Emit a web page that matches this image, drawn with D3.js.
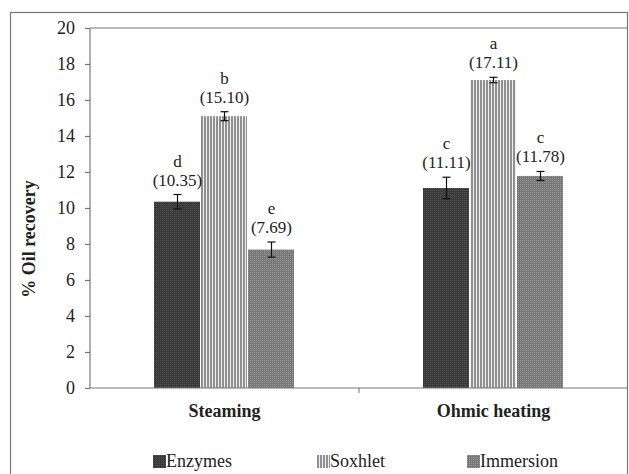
<!DOCTYPE html>
<html>
<head>
<meta charset="utf-8">
<script src="https://cdn.jsdelivr.net/npm/d3@7"></script>
<style>
  body { margin: 0; background: #fff; }
</style>
</head>
<body>
<div id="container"></div>
<script>
const categories = ["Steaming", "Ohmic heating"]
const seriesNames = ["Enzymes", "Soxhlet", "Immersion"]
const enzymes = [10.35, 11.11]
const soxhlet = [15.10, 17.11]
const immersion = [7.69, 11.78]
const enzymesErr = [0.4, 0.6]
const soxhletErr = [0.25, 0.15]
const immersionErr = [0.42, 0.25]
const enzymesLetters = ["d", "c"]
const soxhletLetters = ["b", "a"]
const immersionLetters = ["e", "c"]
const yTicks = [0, 2, 4, 6, 8, 10, 12, 14, 16, 18, 20]

const W = 629, H = 474
const margin = {left: 90, top: 28, right: 1, bottom: 86}
const serif = '"Liberation Serif"'

const svg = d3.select("#container").append("svg")
    .attr("width", W)
    .attr("height", H)

// patterns for the bar fills
const defs = svg.append("defs")

const pEnz = defs.append("pattern").attr("id", "pEnz")
    .attr("patternUnits", "userSpaceOnUse").attr("width", 2).attr("height", 2)
pEnz.append("rect").attr("width", 2).attr("height", 2).attr("fill", "#3a3a3a")
pEnz.append("rect").attr("width", 1).attr("height", 1).attr("fill", "#505050")

const pSox = defs.append("pattern").attr("id", "pSox")
    .attr("patternUnits", "userSpaceOnUse").attr("width", 3).attr("height", 3)
pSox.append("rect").attr("width", 3).attr("height", 3).attr("fill", "#f0f0f0")
pSox.append("rect").attr("width", 2).attr("height", 3).attr("fill", "#909090")

const pImm = defs.append("pattern").attr("id", "pImm")
    .attr("patternUnits", "userSpaceOnUse").attr("width", 2).attr("height", 2)
pImm.append("rect").attr("width", 2).attr("height", 2).attr("fill", "#777")
pImm.append("rect").attr("width", 1).attr("height", 1).attr("fill", "#989898")

const fills = ["url(#pEnz)", "url(#pSox)", "url(#pImm)"]

// outer frame
svg.append("rect")
    .attr("x", 10.5).attr("y", 12.5)
    .attr("width", 617).attr("height", 480)
    .attr("fill", "none")
    .attr("stroke", "#777")
    .attr("stroke-width", 1.2)

const x0 = d3.scaleBand()
    .domain(categories)
    .range([margin.left, W - margin.right])

const y = d3.scaleLinear()
    .domain([0, 20])
    .range([H - margin.bottom, margin.top])

// plot box top line
svg.append("path")
    .attr("d", `M${margin.left},${margin.top}H${W - margin.right}`)
    .attr("fill", "none")
    .attr("stroke", "#777")
    .attr("stroke-width", 1.2)

const barW = 47
const x1 = d3.scaleBand()
    .domain(seriesNames)
    .range([-barW * 1.5, barW * 1.5])

const rows = []
categories.forEach((c, i) => {
    rows.push({cat: c, s: "Enzymes", v: enzymes[i], e: enzymesErr[i], l: enzymesLetters[i], f: fills[0]})
    rows.push({cat: c, s: "Soxhlet", v: soxhlet[i], e: soxhletErr[i], l: soxhletLetters[i], f: fills[1]})
    rows.push({cat: c, s: "Immersion", v: immersion[i], e: immersionErr[i], l: immersionLetters[i], f: fills[2]})
})

const cx = d => x0(d.cat) + x0.bandwidth() / 2 + x1(d.s) + x1.bandwidth() / 2

svg.selectAll(".bar")
    .data(rows)
    .enter()
    .append("rect")
    .attr("class", "bar")
    .attr("x", d => x0(d.cat) + x0.bandwidth() / 2 + x1(d.s))
    .attr("y", d => y(d.v))
    .attr("width", x1.bandwidth() - 1)
    .attr("height", d => y(0) - y(d.v))
    .attr("fill", d => d.f)

// error bars
const err = svg.selectAll(".err")
    .data(rows)
    .enter()
    .append("g")
    .attr("stroke", "#111")
    .attr("stroke-width", 1.2)
err.append("line")
    .attr("x1", cx).attr("x2", cx)
    .attr("y1", d => y(d.v + d.e)).attr("y2", d => y(d.v - d.e))
err.append("line")
    .attr("x1", d => cx(d) - 4).attr("x2", d => cx(d) + 4)
    .attr("y1", d => y(d.v + d.e)).attr("y2", d => y(d.v + d.e))
err.append("line")
    .attr("x1", d => cx(d) - 4).attr("x2", d => cx(d) + 4)
    .attr("y1", d => y(d.v - d.e)).attr("y2", d => y(d.v - d.e))

// value labels
svg.selectAll(".val")
    .data(rows)
    .enter()
    .append("text")
    .attr("x", cx)
    .attr("y", d => y(d.v + d.e) - 9)
    .attr("text-anchor", "middle")
    .style("font-size", "17px")
    .text(d => "(" + d.v.toFixed(2) + ")")

svg.selectAll(".let")
    .data(rows)
    .enter()
    .append("text")
    .attr("x", cx)
    .attr("y", d => y(d.v + d.e) - 28)
    .attr("text-anchor", "middle")
    .style("font-size", "17px")
    .text(d => d.l)

// y axis
const yAxis = svg.append("g")
    .attr("transform", `translate(${margin.left},0)`)
    .call(d3.axisLeft(y).tickValues(yTicks).tickSize(5).tickPadding(10))
yAxis.selectAll("line, path").attr("stroke", "#777").attr("stroke-width", 1.2)
yAxis.select(".domain").attr("d", `M0,${y(0)}V${margin.top}`)
yAxis.selectAll("text")
    .style("font-size", "18px")

// x axis
const xAxis = svg.append("g")
    .attr("transform", `translate(0,${y(0)})`)
    .call(d3.axisBottom(x0).tickSize(0).tickPadding(16))
xAxis.select(".domain").attr("stroke", "#777").attr("stroke-width", 1.2).attr("d", `M${margin.left},0H${W - margin.right}`)
xAxis.selectAll("text")
    .style("font-size", "18px")
    .style("font-weight", "bold")
// category boundary tick
svg.append("line")
    .attr("x1", x0(categories[1])).attr("x2", x0(categories[1]))
    .attr("y1", y(0)).attr("y2", y(0) + 5)
    .attr("stroke", "#777")

svg.append("text")
    .attr("transform", `translate(35,${(y(0) + margin.top) / 2 + 31}) rotate(-90)`)
    .attr("text-anchor", "middle")
    .style("font-size", "18px")
    .style("font-weight", "bold")
    .text("% Oil recovery")

// legend
const legendX = [153, 317, 467]
const legend = svg.selectAll(".leg")
    .data(seriesNames)
    .enter()
    .append("g")
    .attr("transform", (d, i) => `translate(${legendX[i]},455)`)
legend.append("rect")
    .attr("width", 13).attr("height", 13)
    .attr("fill", (d, i) => fills[i])
legend.append("text")
    .attr("x", 13)
    .attr("y", 12)
    .style("font-size", "18px")
    .text(d => d)

// everything in Times-like serif
svg.selectAll("text")
    .style("font-family", serif)
    .attr("fill", "#222")
</script>
</body>
</html>
